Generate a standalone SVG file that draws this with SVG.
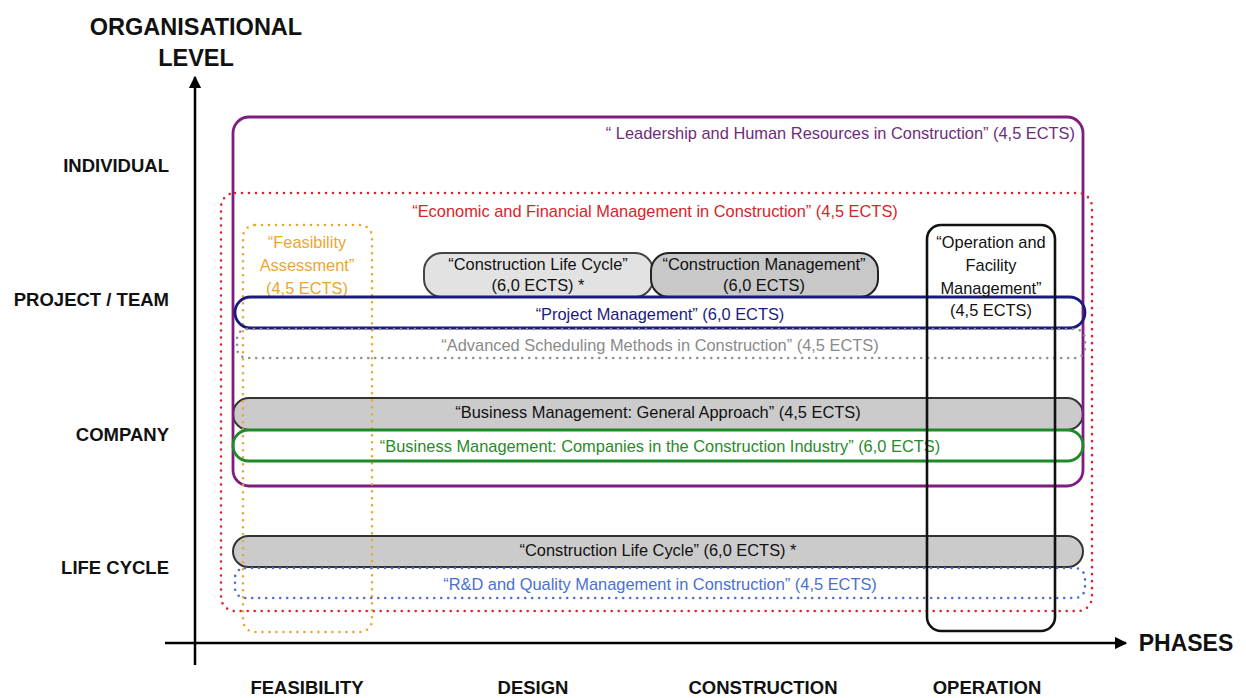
<svg xmlns="http://www.w3.org/2000/svg" width="1246" height="698" viewBox="0 0 1246 698">
  <defs>
    <marker id="arrow" viewBox="0 0 10 10" refX="9" refY="5" markerWidth="5" markerHeight="5" orient="auto" markerUnits="strokeWidth">
      <path d="M0,0 L10,5 L0,10 z" fill="#000"/>
    </marker>
  </defs>
  <style>
    .axis { font-family: "Liberation Sans", Arial, sans-serif; font-weight: bold; fill: #111; }
    .lvl { font-size: 18.5px; text-anchor: end; }
    .ph { font-size: 18.5px; text-anchor: middle; }
    .c { font-family: "Liberation Sans", Arial, sans-serif; font-size: 16.4px; text-anchor: middle; }
    .dot { fill: none; stroke-width: 2.6; stroke-linecap: round; stroke-dasharray: 0 7; }
    .solid { stroke-width: 2.8; }
  </style>
  <rect width="1246" height="698" fill="#fff"/>

  <!-- axes -->
  <g id="connectors">
    <line x1="195" y1="665" x2="195" y2="77" stroke="#000" stroke-width="2.5" marker-end="url(#arrow)"/>
    <line x1="165" y1="643" x2="1126" y2="643" stroke="#000" stroke-width="2.5" marker-end="url(#arrow)"/>
  </g>

  <g id="axis-labels" class="axis">
    <text x="196" y="35" font-size="23.5" text-anchor="middle">ORGANISATIONAL</text>
    <text x="196" y="66" font-size="23.5" text-anchor="middle">LEVEL</text>
    <text x="1186" y="651" font-size="23" text-anchor="middle">PHASES</text>
    <text class="lvl" x="169" y="172">INDIVIDUAL</text>
    <text class="lvl" x="169" y="306">PROJECT / TEAM</text>
    <text class="lvl" x="169" y="441">COMPANY</text>
    <text class="lvl" x="169" y="574">LIFE CYCLE</text>
    <text class="ph" x="307" y="694">FEASIBILITY</text>
    <text class="ph" x="533" y="694">DESIGN</text>
    <text class="ph" x="763" y="694">CONSTRUCTION</text>
    <text class="ph" x="987" y="694">OPERATION</text>
  </g>

  <!-- grey filled bars -->
  <g id="business-general">
    <rect x="233" y="398" width="850" height="32" rx="16" fill="#cbcbcb" stroke="#333" stroke-width="2"/>
    <text class="c" x="658" y="418" fill="#111">“Business Management: General Approach” (4,5 ECTS)</text>
  </g>
  <g id="life-cycle-bar">
    <rect x="233" y="536" width="850" height="31" rx="15.5" fill="#cbcbcb" stroke="#333" stroke-width="2"/>
    <text class="c" x="658" y="556" fill="#111">“Construction Life Cycle” (6,0 ECTS) *</text>
  </g>
  <g id="life-cycle-small">
    <rect x="424" y="253" width="229" height="44" rx="18" fill="#e2e2e2" stroke="#444" stroke-width="2"/>
    <text class="c" x="538" y="270" fill="#111">“Construction Life Cycle”</text>
    <text class="c" x="538" y="291" fill="#111">(6,0 ECTS) *</text>
  </g>
  <g id="construction-management">
    <rect x="651" y="253" width="227" height="44" rx="18" fill="#c8c8c8" stroke="#222" stroke-width="2"/>
    <text class="c" x="764" y="270" fill="#111">“Construction Management”</text>
    <text class="c" x="764" y="291" fill="#111">(6,0 ECTS)</text>
  </g>

  <!-- leadership -->
  <g id="leadership">
    <rect x="233" y="117" width="850" height="369" rx="16" fill="none" stroke="#7d1d82" class="solid"/>
    <text class="c" x="1075" y="139" fill="#6e2c7c" style="text-anchor:end">“ Leadership and Human Resources in Construction” (4,5 ECTS)</text>
  </g>

  <!-- economic -->
  <g id="economic">
    <rect x="221" y="193" width="871" height="418" rx="14" class="dot" stroke="#d8242a"/>
    <text class="c" x="655" y="217" fill="#d8242a">“Economic and Financial Management in Construction” (4,5 ECTS)</text>
  </g>

  <!-- feasibility -->
  <g id="feasibility">
    <rect x="243" y="225" width="129" height="407" rx="12" class="dot" stroke="#eba630"/>
    <text class="c" x="307" y="248" fill="#eba630">“Feasibility</text>
    <text class="c" x="307" y="271" fill="#eba630">Assessment”</text>
    <text class="c" x="307" y="294" fill="#eba630">(4,5 ECTS)</text>
  </g>

  <!-- project management -->
  <g id="project-management">
    <rect x="235" y="297" width="850" height="31" rx="15.5" fill="none" stroke="#1b1b7e" class="solid"/>
    <text class="c" x="660" y="320" fill="#1b1b7e">“Project Management” (6,0 ECTS)</text>
  </g>

  <!-- advanced scheduling -->
  <g id="advanced-scheduling">
    <rect x="237" y="329" width="848" height="29" rx="10" class="dot" stroke="#8c8c9a"/>
    <text class="c" x="660" y="351" fill="#8a8a8a">“Advanced Scheduling Methods in Construction” (4,5 ECTS)</text>
  </g>

  <!-- business companies -->
  <g id="business-companies">
    <rect x="233" y="430" width="850" height="31" rx="15.5" fill="none" stroke="#1f8a28" class="solid"/>
    <text class="c" x="660" y="452" fill="#2a8a2a">“Business Management: Companies in the Construction Industry” (6,0 ECTS)</text>
  </g>

  <!-- R&D -->
  <g id="rd-quality">
    <rect x="235" y="568" width="850" height="30" rx="10" class="dot" stroke="#4a6fcf"/>
    <text class="c" x="660" y="590" fill="#4a70d0">“R&amp;D and Quality Management in Construction” (4,5 ECTS)</text>
  </g>

  <!-- operation -->
  <g id="operation">
    <rect x="927" y="225" width="128" height="406" rx="14" fill="none" stroke="#111" stroke-width="2.6"/>
    <text class="c" x="991" y="248" fill="#111">“Operation and</text>
    <text class="c" x="991" y="271" fill="#111">Facility</text>
    <text class="c" x="991" y="294" fill="#111">Management”</text>
    <text class="c" x="991" y="316" fill="#111">(4,5 ECTS)</text>
  </g>
</svg>
